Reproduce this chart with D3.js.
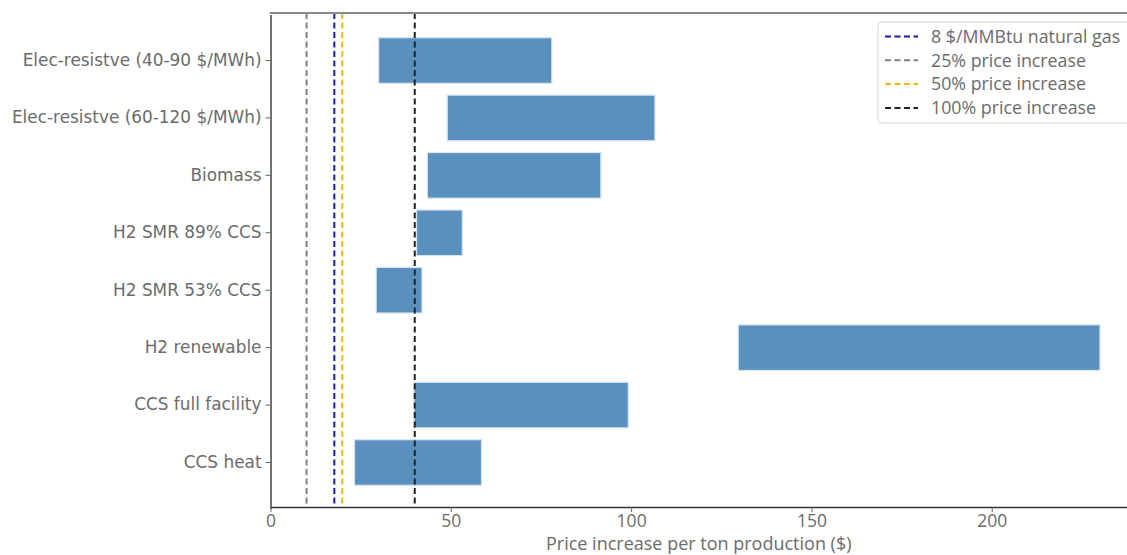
<!DOCTYPE html>
<html><head><meta charset="utf-8">
<script src="https://cdn.jsdelivr.net/npm/d3@7"></script>
<style>
body{margin:0;background:#fff;}
svg{display:block;}
</style></head>
<body>
<svg id="chart" width="1127" height="555"></svg>
<script>
const categories = ["Elec-resistve (40-90 $/MWh)","Elec-resistve (60-120 $/MWh)","Biomass","H2 SMR 89% CCS","H2 SMR 53% CCS","H2 renewable","CCS full facility","CCS heat"];
const lowValues  = [30, 49, 43.5, 40.5, 29.3, 129.7, 39.8, 23.3];
const highValues = [78, 106.6, 91.6, 53.2, 42, 230, 99.2, 58.5];
const refLabels = ["8 $/MMBtu natural gas","25% price increase","50% price increase","100% price increase"];
const refValues = [17.7, 10, 19.9, 40];
const refColors = ["#1a1aa6","#7f7f7f","#f5b417","#222222"];
const xTicks = [0, 50, 100, 150, 200];
const xTitle = "Price increase per ton production ($)";

const svg = d3.select("#chart");
const L = 270.5, R = 1127, T = 13, B = 507;
const x = d3.scaleLinear().domain([0, 237.5]).range([L, R]);
const y = d3.scaleBand().domain(categories).range([T + 1.5, B + 1.5]).paddingInner(0.206).paddingOuter(0.404);

const g = svg.append("g");
g.selectAll("rect.bar").data(categories).join("rect")
  .attr("class","bar")
  .attr("x", (d,i)=>x(lowValues[i]))
  .attr("width", (d,i)=>x(highValues[i])-x(lowValues[i]))
  .attr("y", d=>y(d))
  .attr("height", y.bandwidth())
  .attr("fill", "#5a90be")
  .attr("stroke", "#d6e4f0")
  .attr("stroke-width", 1.2);

g.selectAll("line.ref").data(refValues).join("line")
  .attr("class","ref")
  .attr("x1", d=>x(d)).attr("x2", d=>x(d))
  .attr("y1", T).attr("y2", B)
  .attr("stroke", (d,i)=>refColors[i])
  .attr("stroke-width", 2)
  .attr("stroke-dasharray", "6,3.5");

const font = "'Open Sans', sans-serif";
const xAxis = d3.axisBottom(x).tickValues(xTicks).tickSize(5).tickSizeOuter(0).tickPadding(3);
const xg = svg.append("g").attr("transform", `translate(0,${B})`).call(xAxis);
xg.select(".domain").attr("stroke","#333").attr("stroke-width",1.5);
xg.selectAll(".tick line").attr("stroke","#666");
xg.selectAll(".tick text").attr("fill","#6b6b6b").style("font-family",font).style("font-size","17.5px");

const yAxis = d3.axisLeft(y).tickSize(5).tickSizeOuter(0).tickPadding(4);
const yg = svg.append("g").attr("transform", `translate(${L},0)`).call(yAxis);
yg.select(".domain").attr("stroke","#444").attr("stroke-width",1.5);
yg.selectAll(".tick line").attr("stroke","#666");
yg.selectAll(".tick text").attr("fill","#6b6b6b").style("font-family","'DejaVu Sans', sans-serif").style("font-size","16.9px");

svg.append("line").attr("x1", L-0.75).attr("x2", R).attr("y1", T).attr("y2", T)
  .attr("stroke","#8a8a8a").attr("stroke-width",2);

svg.append("text").attr("x", (L+R)/2).attr("y", 550).attr("text-anchor","middle")
  .attr("fill","#6b6b6b").style("font-family",font).style("font-size","18px")
  .text(xTitle);

const lg = svg.append("g");
lg.append("rect").attr("x", 878).attr("y", 22).attr("width", 260).attr("height", 101)
  .attr("rx", 3).attr("fill","#fff").attr("fill-opacity",0.85).attr("stroke","#d5d5d5");
const items = lg.selectAll("g.item").data(refLabels).join("g").attr("class","item")
  .attr("transform", (d,i)=>`translate(0,${36.5 + i*23.8})`);
items.append("line").attr("x1", 885).attr("x2", 918).attr("y1",0).attr("y2",0)
  .attr("stroke", (d,i)=>refColors[i]).attr("stroke-width",2).attr("stroke-dasharray","6,3.5");
items.append("text").attr("x", 931).attr("y", 0).attr("dy","0.35em")
  .attr("fill","#6b6b6b").style("font-family",font).style("font-size","17.8px")
  .text(d=>d);
</script>
</body></html>
